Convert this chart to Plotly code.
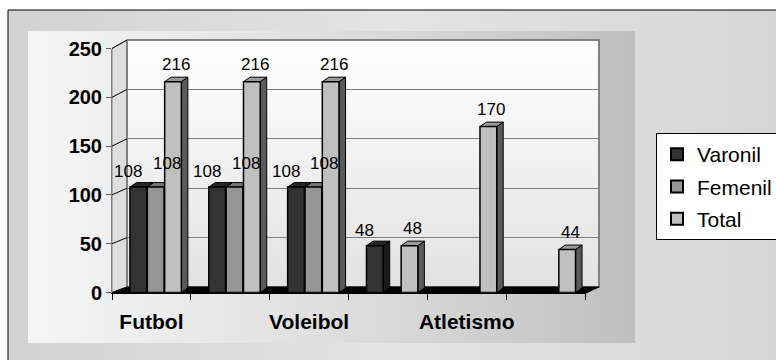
import plotly.graph_objects as go

# ---- data ----
sports = ["Futbol", "", "Voleibol", "", "Atletismo", ""]
varonil = [108, 108, 108, 48, None, None]
femenil = [108, 108, 108, None, None, None]
total = [216, 216, 216, 48, 170, 44]
y_ticks = [0, 50, 100, 150, 200, 250]

W, H = 776, 360

# pixel geometry of the fake 3D box
FX0, FX1, FY0, FY1 = 112, 585, 292.5, 48.5      # front plane (value 0 / 250)
BX0, BX1, BY0, BY1 = 127, 599, 287, 40          # back wall
YMAX = 250


def px(x):
    return x / W


def py(y):
    return 1 - y / H


def fy_front(v):
    return FY0 + (FY1 - FY0) * v / YMAX


def fy_back(v):
    return BY0 + (BY1 - BY0) * v / YMAX


# name, values, front colour, side colour, top colour, bar offset, label x/y shift
series = [
    ("Varonil", varonil, "#333333", "#1c1c1c", "#262626", -0.272, -10, 4),
    ("Femenil", femenil, "#969696", "#555555", "#767676", -0.052, 11, 12),
    ("Total", total, "#c0c0c0", "#5a5a5a", "#9a9a9a", 0.168, 3, 6),
]
BAR_W = 0.212
DX = 6.5 / ((FX1 - FX0) / 6)            # depth in category units
DY = 4.5 * YMAX / (FY0 - FY1)           # depth in value units

fig = go.Figure()

# ---- background (pixel coordinates on x/y) ----
def poly(xs, ys, **kw):
    fig.add_trace(go.Scatter(x=xs + [xs[0]], y=ys + [ys[0]], mode="lines", fill="toself",
                             hoverinfo="skip", showlegend=False, xaxis="x", yaxis="y", **kw))

poly([8, 790, 790, 8], [10, 10, 370, 370], line=dict(color="black", width=1),
     fillgradient=dict(type="horizontal", start=8, stop=776,
                       colorscale=[[0, "#d2d2d2"], [0.5, "#e4e4e4"], [1, "#d6d6d6"]]))
poly([28, 635, 635, 28], [31, 31, 343, 343], line=dict(width=0),
     fillgradient=dict(type="horizontal", start=28, stop=635,
                       colorscale=[[0, "#f6f6f6"], [0.55, "#dcdcdc"], [1, "#bfbfbf"]]))
# left wall
poly([FX0, FX0, BX0, BX0], [FY0, FY1, BY1, BY0], line=dict(color="#808080", width=1),
     fillcolor="#dedede")
# back wall
poly([BX0, BX1, BX1, BX0], [BY1, BY1, BY0, BY0], line=dict(color="#808080", width=2),
     fillgradient=dict(type="vertical", start=BY1, stop=BY0,
                       colorscale=[[0, "#ffffff"], [1, "#e2e2e2"]]))
# floor
poly([FX0, FX1, BX1, BX0], [FY0 + 1, FY0 + 1, BY0, BY0], line=dict(color="black", width=1),
     fillcolor="black")
# tick connectors from front axis to back wall
cx, cy = [], []
for v in y_ticks:
    cx += [FX0, BX0, None]
    cy += [fy_front(v), fy_back(v), None]
fig.add_trace(go.Scatter(x=cx, y=cy, mode="lines", line=dict(color="black", width=1),
                         hoverinfo="skip", showlegend=False, xaxis="x", yaxis="y"))

# ---- back wall gridlines (x2/y2) ----
fig.add_trace(go.Scatter(x=[None], y=[None], xaxis="x2", yaxis="y2", showlegend=False))

# ---- side and top faces (x3/y3) ----
for name, vals, front, side, top, off, lx, ly in series:
    sx, sy, tx, ty = [], [], [], []
    for i, v in enumerate(vals):
        if v is None:
            continue
        x0 = i + off
        x1 = x0 + BAR_W
        sx += [x1, x1 + DX, x1 + DX, x1, x1, None]
        sy += [0, DY, v + DY, v, 0, None]
        tx += [x0, x0 + DX, x1 + DX, x1, x0, None]
        ty += [v, v + DY, v + DY, v, v, None]
    for xs, ys, col in [(sx, sy, side), (tx, ty, top)]:
        fig.add_trace(go.Scatter(x=xs, y=ys, mode="lines", fill="toself", fillcolor=col,
                                 line=dict(color="black", width=1), hoverinfo="skip",
                                 showlegend=False, xaxis="x3", yaxis="y3"))

# ---- front faces (x4/y4) + value labels ----
for name, vals, front, side, top, off, lx, ly in series:
    fig.add_trace(go.Bar(
        x=list(range(len(sports))), y=vals, name=name,
        offset=off, width=BAR_W,
        marker=dict(color=front, line=dict(color="black", width=1.5)),
        xaxis="x4", yaxis="y4", legendgroup=name,
    ))
    for i, v in enumerate(vals):
        if v is None:
            continue
        fig.add_annotation(x=i + off + BAR_W / 2, y=v, xref="x4", yref="y4", text=str(v),
                           showarrow=False, yanchor="bottom", xshift=lx, yshift=ly,
                           font=dict(family="Liberation Sans, Arial", size=17, color="black"))

xr = [-0.5, 5.5]
fig.update_layout(
    width=W, height=H, margin=dict(l=0, r=0, t=0, b=0, autoexpand=False),
    paper_bgcolor="white", plot_bgcolor="rgba(0,0,0,0)",
    barmode="overlay",
    font=dict(family="Liberation Sans, Arial", color="black"),
    xaxis=dict(domain=[0, 1], range=[0, W], visible=False, fixedrange=True),
    yaxis=dict(domain=[0, 1], range=[H, 0], visible=False, fixedrange=True),
    xaxis2=dict(domain=[px(BX0), px(BX1)], range=xr, showgrid=False, zeroline=False,
                showticklabels=False, ticks=""),
    yaxis2=dict(domain=[py(BY0), py(BY1)], range=[0, YMAX], anchor="x2",
                tickvals=y_ticks[1:], showgrid=True, gridcolor="#808080", gridwidth=1,
                zeroline=False, showticklabels=False, ticks=""),
    xaxis3=dict(domain=[px(FX0), px(FX1)], range=xr, visible=False),
    yaxis3=dict(domain=[py(FY0), py(FY1)], range=[0, YMAX], anchor="x3", visible=False),
    xaxis4=dict(domain=[px(FX0), px(FX1)], range=xr, anchor="y4",
                tickvals=list(range(len(sports))), ticktext=sports, ticks="",
                ticklabelstandoff=10,
                tickfont=dict(size=21, family="Liberation Sans, Arial", weight="bold"),
                showline=True, linecolor="black", linewidth=1, showgrid=False, zeroline=False,
                minor=dict(tickvals=[i - 0.5 for i in range(len(sports) + 1)], ticks="outside",
                           ticklen=6, tickcolor="black")),
    yaxis4=dict(domain=[py(FY0), py(FY1)], range=[0, YMAX], anchor="x4",
                tickvals=y_ticks, ticks="outside", ticklen=5, tickcolor="#606060",
                tickfont=dict(size=20, family="Liberation Sans, Arial", weight="bold"),
                showline=True, linecolor="#808080", linewidth=1, showgrid=False,
                zeroline=False),
    legend=dict(x=px(656), y=py(133), xanchor="left", yanchor="top",
                bgcolor="white", bordercolor="black", borderwidth=1,
                font=dict(size=21, family="Liberation Sans, Arial"),
                tracegroupgap=2, itemwidth=30, itemsizing="constant"),
    showlegend=True,
)

fig.write_html("out.html", config={"displayModeBar": False},
               post_script="document.body.style.margin = '0px';")
